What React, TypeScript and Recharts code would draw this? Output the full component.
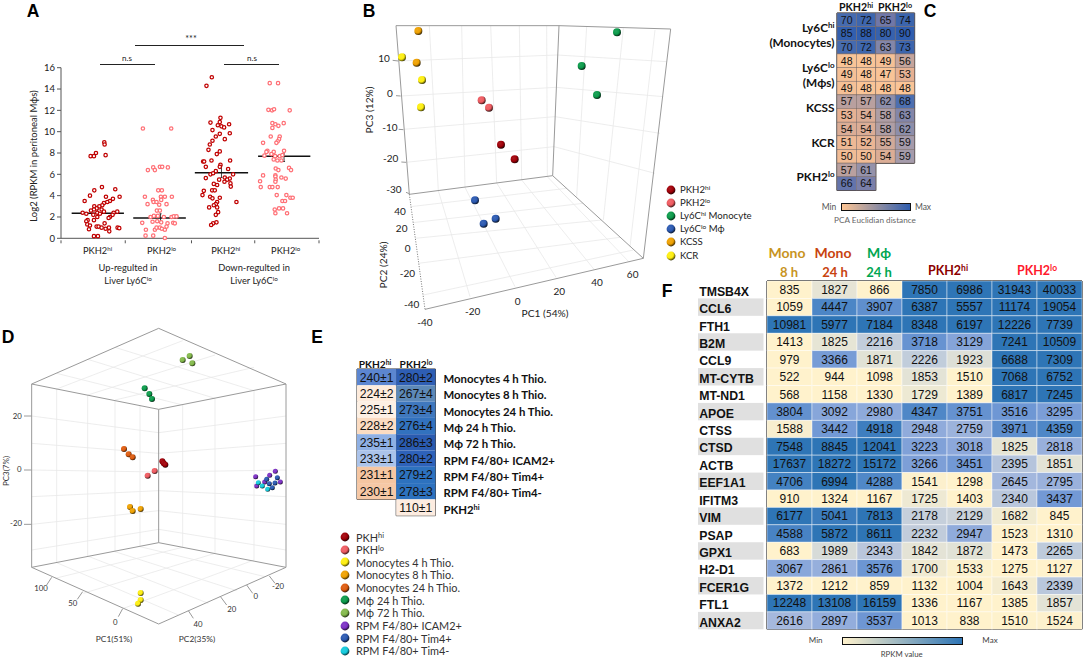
import React from "react";
import { ScatterChart, Scatter, XAxis, YAxis, ReferenceLine } from "recharts";

const SANS = "Lato, 'Open Sans', sans-serif";
const ARIAL = "'Liberation Sans', Arial, sans-serif";

// Panel A: [horizontal jitter position, log2 RPKM]
const upHi = [[313,9.0],[314,8.8],[288,8.0],[272,7.7],[282,7.7],[317,7.8],[306,4.8],[283,4.5],[346,4.6],[270,4.0],[318,3.9],[359,3.9],[254,3.5],[339,3.7],[330,3.5],[322,3.4],[312,3.3],[307,3.1],[298,3.0],[283,3.0],[290,2.8],[282,2.7],[305,2.7],[273,2.6],[312,2.5],[292,2.4],[248,2.4],[259,2.3],[280,2.2],[300,2.3],[341,2.4],[352,2.5],[338,2.2],[330,2.0],[326,1.9],[292,2.0],[282,1.7],[263,1.7],[259,1.6],[262,1.3],[270,1.2],[314,1.4],[267,0.85],[290,1.1],[296,1.1],[305,1.0],[317,0.9],[327,1.0],[328,0.65],[353,1.0],[358,0.95],[282,0.2],[294,0.2]];
const upLo = [[429,10.3],[514,10.3],[460,6.65],[444,6.4],[465,6.4],[480,6.7],[487,6.7],[504,6.65],[475,4.5],[486,4.5],[435,3.9],[483,3.9],[495,3.9],[516,3.9],[459,3.6],[461,3.4],[470,3.4],[484,3.6],[443,3.2],[478,3.15],[500,3.2],[471,2.6],[480,2.6],[452,2.0],[462,2.1],[474,2.1],[492,2.0],[515,2.0],[522,2.05],[530,2.05],[427,1.45],[458,1.55],[472,1.6],[484,1.5],[503,1.4],[520,1.45],[525,1.4],[438,0.8],[465,0.8],[470,1.0],[480,1.0],[486,0.9],[495,0.8],[500,1.1],[437,0.25],[460,0.25],[495,0.03]];
const downHi = [[636,15.1],[620,14.3],[662,11.3],[632,10.85],[688,10.7],[660,10.9],[654,10.6],[665,10.5],[673,10.4],[638,10.15],[690,9.85],[660,9.8],[648,9.55],[675,9.3],[638,9.15],[630,8.8],[626,8.3],[660,8.15],[651,7.9],[610,7.2],[613,7.2],[635,7.3],[691,7.3],[662,6.9],[660,6.7],[618,6.7],[685,6.5],[648,6.3],[632,6.0],[700,6.0],[618,5.65],[640,6.1],[675,5.7],[690,5.6],[682,5.5],[674,5.3],[658,5.5],[692,5.15],[642,5.1],[652,5.0],[693,4.85],[612,4.45],[637,4.5],[645,4.5],[608,4.05],[631,3.9],[638,3.75],[660,3.8],[710,3.4],[652,3.4],[648,3.2],[642,3.1],[628,2.9],[652,2.9],[655,2.45],[648,2.2],[650,1.5],[640,1.4],[634,1.25]];
const downLo = [[810,14.55],[835,14.55],[806,12.05],[817,12.0],[823,12.1],[870,12.0],[818,10.8],[827,10.7],[852,10.8],[836,10.55],[818,10.35],[813,9.55],[840,9.55],[838,9.3],[834,9.1],[830,8.95],[790,8.95],[803,8.2],[800,8.1],[822,8.1],[853,8.2],[794,7.75],[815,7.9],[826,7.7],[840,7.7],[848,7.8],[822,7.4],[833,7.3],[845,7.3],[828,6.55],[836,6.4],[868,6.6],[874,6.4],[827,5.9],[827,5.8],[790,5.9],[845,5.7],[858,5.6],[828,5.5],[827,5.3],[781,5.35],[783,4.8],[810,4.8],[818,4.8],[834,4.8],[831,4.05],[860,4.05],[872,3.8],[879,3.8],[848,3.5],[856,3.5],[825,2.7],[838,2.8],[850,2.8],[827,2.35],[862,2.35]];
const aGroups = [upHi, upLo, downHi, downLo];
const aGroupColors = ["#c00000", "#ff7076", "#c00000", "#ff7076"];
const aMeans = [[215,372,2.35],[400,558,1.9],[585,745,6.15],[775,932,7.7]];
const aErrors = [[293,2.0,2.7],[482,1.5,2.3],[665,5.7,6.8],[853,7.2,8.2]];
const aBoundaries = [183,376,575,765,958];
const aCenters = [293,485,678,858];
const aCenterLabels = ["hi","lo","hi","lo"];
const aYTicks = [0,2,4,6,8,10,12,14,16];

// Panel B: projected view positions of the 3D PCA
const bGroups = [
  { id: "hi", name: "PKH2", sup: "hi", tail: "", pts: [[393,434],[434,478]] },
  { id: "lo", name: "PKH2", sup: "lo", tail: "", pts: [[335,301],[357,323]] },
  { id: "green", name: "Ly6C", sup: "hi", tail: " Monocyte", pts: [[741,97],[635,198],[681,285]] },
  { id: "blue", name: "Ly6C", sup: "lo", tail: " M\u03d5", pts: [[315,601],[377,656],[341,671]] },
  { id: "orange", name: "KCSS", sup: "", tail: "", pts: [[145,93],[140,188]] },
  { id: "yellow", name: "KCR", sup: "", tail: "", pts: [[96,172],[156,240],[153,322]] },
];
const bFrame = [[78,77,567,77],[567,77,902,87],[78,77,118,583],[567,77,548,527],[902,87,820,775],[118,583,548,527],[548,527,820,775],[165,928,820,775],[68,181,85,183],[78,287,92,288],[86,388,100,389],[94,486,108,487],[108,577,118,581]];
const bDotted = [[118,583,165,928]];
const bGrid = [[178,77,205,572],[275,77,285,562],[362,77,380,549],[448,77,455,540],[530,77,532,530],[85,183,562,165],[92,288,558,262],[100,388,555,350],[108,487,552,440],[650,80,620,590],[760,85,700,660],[855,90,780,740],[562,165,890,185],[558,262,880,290],[555,350,870,400],[552,440,855,520],[205,572,300,890],[285,562,435,860],[380,549,558,832],[455,540,672,808],[532,530,778,787],[122,620,590,565],[128,668,640,610],[135,715,695,660],[145,790,750,712],[160,885,790,750]];
const bLabels = [["10",42,173],["0",60,278],["-10",60,380],["-20",62,475],["-30",72,567],["40",90,632],["20",95,685],["0",113,745],["-20",112,820],["-40",125,912],["-40",165,967],["-20",308,933],["0",443,902],["20",568,873],["40",681,847],["60",788,823]];

// Panel D: projected view positions of the 3D PCA
const dGroups = [
  { id: "hi", name: "PKH", sup: "hi", r: 9, pts: [[487,424],[491,430],[496,434]] },
  { id: "lo", name: "PKH", sup: "lo", r: 9, pts: [[464,453],[443,467]] },
  { id: "yellow", name: "Monocytes 4 h Thio.", sup: "", r: 9, pts: [[422,819],[422,840],[414,851]] },
  { id: "orange", name: "Monocytes 8 h Thio.", sup: "", r: 9, pts: [[390,561],[398,573],[422,567]] },
  { id: "rust", name: "Monocytes 24 h Thio.", sup: "", r: 9, pts: [[372,387],[386,403],[398,412]] },
  { id: "green", name: "M\u03d5 24 h Thio.", sup: "", r: 9, pts: [[434,205],[448,222],[456,237]] },
  { id: "olive", name: "M\u03d5 72 h Thio.", sup: "", r: 9, pts: [[569,108],[548,120],[577,130]] },
  { id: "purple", name: "RPM F4/80+ ICAM2+", sup: "", r: 7.5, pts: [[767,470],[826,454],[809,466],[794,486],[841,486],[770,498]] },
  { id: "blue", name: "RPM F4/80+ Tim4+", sup: "", r: 7.5, pts: [[800,478],[832,473],[808,491],[825,489],[817,503]] },
  { id: "cyan", name: "RPM F4/80+ Tim4-", sup: "", r: 7.5, pts: [[775,488],[787,498],[803,508]] },
];
const dFrame = [[95,192,476,25],[476,25,858,192],[858,192,476,268],[476,268,95,192],[95,192,95,742],[858,192,858,742],[476,268,476,668],[95,742,476,668],[476,668,858,742],[95,742,476,912],[476,912,858,742],[72,288,95,288],[72,450,95,450],[72,613,95,613],[155,772,140,795],[248,815,232,838],[368,866,355,890],[565,872,580,895],[660,828,680,855],[740,795,758,820],[808,768,825,790]];
const dGrid = [[170,207,170,728],[263,225,263,708],[345,240,345,695],[420,255,420,680],[548,255,548,682],[645,235,645,700],[762,212,762,720],[95,288,476,338],[95,370,476,400],[95,450,476,456],[95,530,476,512],[95,613,476,572],[95,690,476,628],[476,338,858,288],[476,400,858,370],[476,456,858,450],[476,512,858,530],[476,572,858,613],[476,628,858,690],[170,207,548,62],[263,225,645,105],[345,240,762,142],[548,255,170,160],[645,235,263,118],[762,212,345,82],[170,728,535,885],[263,708,625,850],[345,695,710,812],[420,680,795,770],[548,682,165,775],[645,700,250,820],[762,720,368,866]];
const dLabels = [["20",52,290],["0",58,451],["-20",48,613],["100",123,806],["50",218,851],["0",346,908],["40",594,916],["20",695,870],["0",767,830],["-20",834,801]];

// Panel C: PCA euclidian distance
const cValues = [
  [70,72,65,74],[85,88,80,90],[70,72,63,73],
  [48,48,49,56],[49,48,47,53],[49,48,48,48],
  [57,57,62,68],[53,54,58,63],[54,54,58,62],
  [51,52,55,59],[50,50,54,59],
  [57,61],[66,64],
];
const cThickRows = [3,6,9];
const cRowLabels = [["Ly6C","hi","",28],["(Monocytes)","","",43],["Ly6C","lo","",68],["(M\u03d5s)","","",83],["KCSS","","",108],["KCR","","",143],["PKH2","lo","",177]];

// Panel E: distance +/- sd
const eRowNames = ["Monocytes 4 h Thio.","Monocytes 8 h Thio.","Monocytes 24 h Thio.","M\u03d5 24 h Thio.","M\u03d5 72 h Thio.","RPM F4/80+ ICAM2+","RPM F4/80+ Tim4+","RPM F4/80+ Tim4-","PKH2hi"];
const eHiValues = ["240\u00b11","224\u00b12","225\u00b11","228\u00b12","235\u00b11","233\u00b11","231\u00b11","230\u00b11"];
const eLoValues = ["280\u00b12","267\u00b14","273\u00b14","276\u00b14","286\u00b13","280\u00b12","279\u00b12","278\u00b13","110\u00b11"];
const eHiColors = ["#5c86d0","#fdebdc","#fdf0e4","#fbdcc2","#8fb0e4","#abc3ea","#f5c6a2","#f6c8a6"];
const eLoColors = ["#2e5eb4","#5d89b8","#3f78be","#3272be","#2a5bb0","#2e62ba","#2d72bf","#2d72bf","#fdece0"];

// Panel F: RPKM
const fGenes = ["TMSB4X","CCL6","FTH1","B2M","CCL9","MT-CYTB","MT-ND1","APOE","CTSS","CTSD","ACTB","EEF1A1","IFITM3","VIM","PSAP","GPX1","H2-D1","FCER1G","FTL1","ANXA2"];
const fValues = [
  [835,1827,866,7850,6986,31943,40033],
  [1059,4447,3907,6387,5557,11174,19054],
  [10981,5977,7184,8348,6197,12226,7739],
  [1413,1825,2216,3718,3129,7241,10509],
  [979,3366,1871,2226,1923,6688,7309],
  [522,944,1098,1853,1510,7068,6752],
  [568,1158,1330,1729,1389,6817,7245],
  [3804,3092,2980,4347,3751,3516,3295],
  [1588,3442,4918,2948,2759,3971,4359],
  [7548,8845,12041,3223,3018,1825,2818],
  [17637,18272,15172,3266,3451,2395,1851],
  [4706,6994,4288,1541,1298,2645,2795],
  [910,1324,1167,1725,1403,2340,3437],
  [6177,5041,7813,2178,2129,1682,845],
  [4588,5872,8611,2232,2947,1523,1310],
  [683,1989,2343,1842,1872,1473,2265],
  [3067,2861,3576,1700,1533,1275,1127],
  [1372,1212,859,1132,1004,1643,2339],
  [12248,13108,16159,1336,1167,1385,1857],
  [2616,2897,3537,1013,838,1510,1524],
];
const fHeavyCols = [0,3,5,7];

const sphereColors: Record<string, string> = {
  hi: "#a00008", lo: "#ee5a60", green: "#0a9a4a", blue: "#2a58b0", orange: "#eea000",
  yellow: "#fdee10", rust: "#dd5a0e", olive: "#82b84a", purple: "#7c30c4", cyan: "#14cadc",
};

function hexMix(a: string, b: string, t: number) {
  const pa = [1, 3, 5].map((i) => parseInt(a.slice(i, i + 2), 16));
  const pb = [1, 3, 5].map((i) => parseInt(b.slice(i, i + 2), 16));
  return "rgb(" + pa.map((v, i) => Math.round(v + (pb[i] - v) * t)).join(",") + ")";
}

function ramp(stops: [number, string][], v: number) {
  if (v <= stops[0][0]) return stops[0][1];
  for (let i = 1; i < stops.length; i++) {
    if (v <= stops[i][0]) {
      const [a, ca] = stops[i - 1];
      const [b, cb] = stops[i];
      return hexMix(ca, cb, (v - a) / (b - a));
    }
  }
  return stops[stops.length - 1][1];
}

const fStops: [number, string][] = [[1500,"#fff2cc"],[1800,"#e8e6d5"],[2200,"#c3cedb"],[2600,"#a6b9dd"],[3000,"#8da9db"],[3500,"#6f97d4"],[4300,"#5088c8"],[5500,"#2e75b6"]];
const cStops: [number, string][] = [[48,"#f9c497"],[53,"#e6b193"],[57,"#b9a09f"],[59,"#a59bab"],[62,"#8d8eaa"],[65,"#7077a8"],[68,"#4d6fb0"],[72,"#3e66ad"],[88,"#2f5dae"]];

function T({ x, y, children, size = 10, bold = false, color = "#222", font = SANS, rotate = 0, anchor = "center" }: any) {
  const shift = anchor === "center" ? "-50%" : anchor === "end" ? "-100%" : "0";
  return (
    <div style={{ position: "absolute", left: x, top: y, fontFamily: font, fontSize: size, fontWeight: bold ? 700 : 400, color, whiteSpace: "nowrap", lineHeight: 1, transform: `translate(${shift},-50%) rotate(${rotate}deg)` }}>
      {children}
    </div>
  );
}

const Sup = ({ children }: any) => <sup style={{ fontSize: "68%", lineHeight: 0, verticalAlign: "baseline", position: "relative", top: "-0.45em" }}>{children}</sup>;

function HBar({ x, y, w, h = 1.2 }: any) {
  return <div style={{ position: "absolute", left: x, top: y, width: w, height: h, background: "#222" }} />;
}

function GradientDefs() {
  return (
    <svg width={0} height={0} style={{ position: "absolute" }}>
      <defs>
        {Object.keys(sphereColors).map((k) => (
          <radialGradient key={k} id={"sph-" + k} cx="0.38" cy="0.35" r="0.7">
            <stop offset="0%" stopColor={hexMix(sphereColors[k], "#ffffff", 0.1)} />
            <stop offset="55%" stopColor={sphereColors[k]} />
            <stop offset="100%" stopColor={hexMix(sphereColors[k], "#000000", 0.85)} />
          </radialGradient>
        ))}
      </defs>
    </svg>
  );
}

function Sphere({ left, top, id }: any) {
  return (
    <svg width={10} height={10} style={{ position: "absolute", left: left - 5, top: top - 5 }}>
      <circle cx={5} cy={5} r={4.4} fill={`url(#sph-${id})`} />
    </svg>
  );
}

const toPts = (pts: number[][]) => pts.map(([x, y]) => ({ x, y }));

function Segments({ list, stroke, width = 1, dash }: any) {
  return list.map((s: number[], i: number) => (
    <ReferenceLine key={i} segment={[{ x: s[0], y: s[1] }, { x: s[2], y: s[3] }]} stroke={stroke} strokeWidth={width} strokeDasharray={dash} ifOverflow="visible" />
  ));
}

function ProjectedChart({ left, top, width, height, groups, frame, grid, dotted, radius }: any) {
  return (
    <div style={{ position: "absolute", left, top }}>
      <ScatterChart width={width} height={height} margin={{ top: 0, right: 0, bottom: 0, left: 0 }}>
        <XAxis type="number" dataKey="x" domain={[0, width * 3]} hide />
        <YAxis type="number" dataKey="y" domain={[0, height * 3]} reversed hide />
        {Segments({ list: grid, stroke: "#e8e8e8", width: 0.8 })}
        {Segments({ list: frame, stroke: "#9a9a9a", width: 1 })}
        {dotted ? Segments({ list: dotted, stroke: "#777", width: 1, dash: "1 1.5" }) : null}
        {groups.map((g: any) => (
          <Scatter key={g.id + g.name} data={toPts(g.pts)} isAnimationActive={false}
            shape={(p: any) => <circle cx={p.cx} cy={p.cy} r={(g.r || radius) / 3} fill={`url(#sph-${g.id})`} />} />
        ))}
      </ScatterChart>
    </div>
  );
}

function ATick({ x, y, payload }: any) {
  const i = aCenters.indexOf(payload.value);
  if (i < 0) return <line x1={x} x2={x} y1={y} y2={y + 3} stroke="#555" />;
  return (
    <text x={x} y={y + 14} textAnchor="middle" fontFamily={SANS} fontSize={9.3} fill="#222">
      PKH2<tspan fontSize={6.2} dy={-3.2}>{aCenterLabels[i]}</tspan>
    </text>
  );
}

function PanelA() {
  return (
    <div style={{ position: "absolute", left: 0, top: 50 }}>
      <ScatterChart width={340} height={219} margin={{ top: 17.7, right: 21, bottom: 0.7, left: 0 }}>
        <XAxis type="number" dataKey="x" domain={[183, 958]} ticks={[...aBoundaries, ...aCenters].sort((a, b) => a - b)} interval={0} height={30} tickLine={false} tickSize={0} tick={ATick} stroke="#555" />
        <YAxis type="number" dataKey="y" domain={[0, 16]} ticks={aYTicks} interval={0} width={61} tickSize={4} tick={{ fontFamily: SANS, fontSize: 9.5, fill: "#222" }} stroke="#555" />
        {aGroups.map((g, i) => (
          <Scatter key={i} data={toPts(g)} isAnimationActive={false}
            shape={(p: any) => <circle cx={p.cx} cy={p.cy} r={1.7} fill="#fff" stroke={aGroupColors[i]} strokeWidth={1.25} />} />
        ))}
        {aMeans.map((m, i) => (
          <ReferenceLine key={"m" + i} segment={[{ x: m[0], y: m[2] }, { x: m[1], y: m[2] }]} stroke="#111" strokeWidth={1.4} />
        ))}
        {aErrors.map((e, i) => (
          <ReferenceLine key={"e" + i} segment={[{ x: e[0], y: e[1] }, { x: e[0], y: e[2] }]} stroke="#111" strokeWidth={0.8} />
        ))}
        {aErrors.flatMap((e, i) => [1, 2].map((k) => (
          <ReferenceLine key={"c" + i + k} segment={[{ x: e[0] - 3, y: e[k] }, { x: e[0] + 3, y: e[k] }]} stroke="#111" strokeWidth={0.8} />
        )))}
      </ScatterChart>
    </div>
  );
}

function cellShape(w: number, h: number, fontSize: number, border: string, borderW: number) {
  return (p: any) => {
    const d = p.payload;
    return (
      <g>
        <rect x={p.cx - w / 2} y={p.cy - h / 2} width={w} height={h} fill={d.fill} stroke={border} strokeWidth={borderW} />
        <text x={p.cx} y={p.cy + fontSize * 0.36} textAnchor="middle" fontFamily={ARIAL} fontSize={fontSize} fill="#111">{d.label}</text>
      </g>
    );
  };
}

function PanelC() {
  const W = 77.6, H = 177.4, cw = W / 4, ch = H / 13;
  const cells = cValues.flatMap((row, r) => row.map((v, c) => ({ x: c + 0.5, y: r + 0.5, label: v, fill: ramp(cStops, v) })));
  const outline = [[0,0,4,0],[4,0,4,11],[4,11,2,11],[2,11,2,13],[2,13,0,13],[0,13,0,0],[2,0,2,11],[0,11,2,11]];
  const rowLines = cThickRows.map((r) => [0, r, 4, r]);
  return (
    <div style={{ position: "absolute", left: 834.7, top: 11.3 }}>
      <ScatterChart width={W + 4} height={H + 4} margin={{ top: 2, right: 2, bottom: 2, left: 2 }}>
        <XAxis type="number" dataKey="x" domain={[0, 4]} hide />
        <YAxis type="number" dataKey="y" domain={[0, 13]} reversed hide />
        <Scatter data={cells} isAnimationActive={false} shape={cellShape(cw, ch, 10.5, "#7a6a66", 0.5)} />
        {Segments({ list: outline, stroke: "#1a1a1a", width: 1.1 })}
        {Segments({ list: rowLines, stroke: "#1a1a1a", width: 1.1 })}
      </ScatterChart>
    </div>
  );
}

function ETick({ x, y, payload }: any) {
  const name = eRowNames[Math.floor(payload.value)];
  const isHi = name === "PKH2hi";
  return (
    <text x={x + 6} y={y + 6} fontFamily={SANS} fontWeight={700} fontSize={11.4} fill="#111">
      {isHi ? "PKH2" : name}
      {isHi ? <tspan fontSize={7.5} dy={-3.5}>hi</tspan> : null}
    </text>
  );
}

function PanelE() {
  const W = 78.4, H = 146.7, cw = W / 2, ch = H / 9;
  const hiCells = eHiValues.map((label, r) => ({ x: 0.5, y: r + 0.5, label, fill: eHiColors[r] }));
  const loCells = eLoValues.map((label, r) => ({ x: 1.5, y: r + 0.5, label, fill: eLoColors[r] }));
  const outline = [[0,0,2,0],[2,0,2,9],[2,9,1,9],[1,9,1,0],[0,8,1,8],[0,0,0,8]];
  return (
    <div style={{ position: "absolute", left: 354.7, top: 367.3 }}>
      <ScatterChart width={W + 4 + 170} height={H + 4} margin={{ top: 2, right: 0, bottom: 2, left: 2 }}>
        <XAxis type="number" dataKey="x" domain={[0, 2]} hide />
        <YAxis type="number" dataKey="y" orientation="right" domain={[0, 9]} reversed ticks={eRowNames.map((_, i) => i + 0.5)} interval={0} width={172} tick={ETick} tickLine={false} axisLine={false} tickSize={0} />
        <Scatter data={[...hiCells, ...loCells]} isAnimationActive={false} shape={cellShape(cw, ch, 12.2, "none", 0)} />
        {Segments({ list: outline, stroke: "#333", width: 1 })}
      </ScatterChart>
    </div>
  );
}

function FTick({ x, y, payload }: any) {
  const i = Math.floor(payload.value);
  return (
    <g>
      {i % 2 === 1 ? <rect x={x - 67} y={y - 8.7} width={65.5} height={17.4} fill="#e0e0e0" /> : null}
      <text x={x - 65.8} y={y + 6} fontFamily={ARIAL} fontWeight={700} fontSize={12.3} fill="#111">{fGenes[i]}</text>
    </g>
  );
}

function PanelF() {
  const W = 315, H = 348.3, cw = W / 7, ch = H / 20;
  const cells = fValues.flatMap((row, r) => row.map((v, c) => ({ x: c + 0.5, y: r + 0.5, label: v, fill: ramp(fStops, v) })));
  const heavy = [...fHeavyCols.map((c) => [c, 0, c, 20]), [0, 0, 7, 0], [0, 20, 7, 20]];
  const thin = [1, 2, 4, 6].map((c) => [c, 0, c, 20]);
  return (
    <div style={{ position: "absolute", left: 698.3, top: 278.7 }}>
      <ScatterChart width={W + 69 + 2} height={H + 4} margin={{ top: 2, right: 2, bottom: 2, left: 0 }}>
        <XAxis type="number" dataKey="x" domain={[0, 7]} hide />
        <YAxis type="number" dataKey="y" domain={[0, 20]} reversed ticks={fGenes.map((_, i) => i + 0.5)} interval={0} width={69} tick={FTick} tickLine={false} axisLine={false} tickSize={0} />
        <Scatter data={cells} isAnimationActive={false} shape={cellShape(cw, ch, 12, "rgba(255,255,255,0.55)", 0.8)} />
        {Segments({ list: thin, stroke: "#555", width: 0.7 })}
        {Segments({ list: heavy, stroke: "#1a1a1a", width: 1.4 })}
      </ScatterChart>
    </div>
  );
}

function LegendBar({ x, y, w, h, from, to }: any) {
  return <div style={{ position: "absolute", left: x, top: y, width: w, height: h, boxSizing: "border-box", border: "1.2px solid #111", background: `linear-gradient(to right, ${from}, ${to})` }} />;
}

export default function App() {
  return (
    <div style={{ position: "absolute", left: 0, top: 0, width: 1084, height: 660, background: "#fff", overflow: "hidden" }}>
      <GradientDefs />
      <T x={33} y={12} size={17.5} bold font={ARIAL} color="#000">A</T>
      <T x={369} y={12} size={17.5} bold font={ARIAL} color="#000">B</T>
      <T x={930} y={12} size={17.5} bold font={ARIAL} color="#000">C</T>
      <T x={8} y={338} size={17.5} bold font={ARIAL} color="#000">D</T>
      <T x={317} y={338} size={17.5} bold font={ARIAL} color="#000">E</T>
      <T x={667} y={292} size={17.5} bold font={ARIAL} color="#000">F</T>

      <PanelA />
      <T x={191} y={38} size={9}>***</T>
      <HBar x={135} y={44.6} w={109} />
      <T x={127} y={58} size={8}>n.s</T>
      <HBar x={99.5} y={64} w={55} />
      <T x={252} y={58} size={8}>n.s</T>
      <HBar x={223.5} y={64} w={55} />
      <T x={34} y={156} size={9.5} rotate={-90}>Log2 (RPKM in peritoneal M&#981;s)</T>
      <T x={128} y={268} size={9.3}>Up-regulted in</T>
      <T x={128} y={280.5} size={9.3}>Liver Ly6C<Sup>lo</Sup></T>
      <T x={254} y={268} size={9.3}>Down-regulted in</T>
      <T x={254} y={280.5} size={9.3}>Liver Ly6C<Sup>lo</Sup></T>

      <ProjectedChart left={370} top={0} width={340} height={330} groups={bGroups} frame={bFrame} grid={bGrid} dotted={bDotted} radius={12} />
      {bLabels.map(([t, x, y]: any, i) => <T key={i} x={370 + x / 3} y={y / 3} size={10}>{t}</T>)}
      <T x={369} y={110} size={10.2} rotate={-90}>PC3 (12%)</T>
      <T x={383} y={265} size={10.2} rotate={-90}>PC2 (24%)</T>
      <T x={545} y={313} size={10.2}>PC1 (54%)</T>
      {bGroups.map((g, i) => (
        <React.Fragment key={i}>
          <Sphere left={671} top={190 + i * 13.1} id={g.id} />
          <T x={680} y={190 + i * 13.1} size={9.6} anchor="start">{g.name}{g.sup ? <Sup>{g.sup}</Sup> : null}{g.tail}</T>
        </React.Fragment>
      ))}

      <PanelC />
      <T x={856} y={7} size={10.6} bold color="#111">PKH2<Sup>hi</Sup></T>
      <T x={895} y={7} size={10.6} bold color="#111">PKH2<Sup>lo</Sup></T>
      {cRowLabels.map(([a, s, , y]: any, i) => (
        <T key={i} x={834.5} y={y} size={11.8} bold color="#111" anchor="end">{a}{s ? <Sup>{s}</Sup> : null}</T>
      ))}
      <T x={829} y={207} size={8.5} color="#555">Min</T>
      <LegendBar x={840.5} y={203} w={70.5} h={7.6} from="#fdc594" to="#2f5dae" />
      <T x={923} y={207} size={8.5} color="#555">Max</T>
      <T x={875} y={220} size={8.2} color="#666">PCA Euclidian distance</T>

      <ProjectedChart left={0} top={320} width={340} height={340} groups={dGroups} frame={dFrame} grid={dGrid} radius={9} />
      {dLabels.map(([t, x, y]: any, i) => <T key={i} x={x / 3} y={320 + y / 3} size={7.8} color="#333">{t}</T>)}
      <T x={6} y={471} size={8} color="#333" rotate={-90}>PC3(7%)</T>
      <T x={114} y={639} size={8.4} color="#333">PC1(51%)</T>
      <T x={197} y={639} size={8.4} color="#333">PC2(35%)</T>
      {dGroups.map((g, i) => (
        <React.Fragment key={i}>
          <Sphere left={345} top={537 + i * 12.65} id={g.id} />
          <T x={356} y={537.5 + i * 12.65} size={10.9} anchor="start" color="#333">{g.name}{g.sup ? <Sup>{g.sup}</Sup> : null}</T>
        </React.Fragment>
      ))}

      <PanelE />
      <T x={375} y={364} size={10.2} bold color="#111">PKH2<Sup>hi</Sup></T>
      <T x={416} y={364} size={10.2} bold color="#111">PKH2<Sup>lo</Sup></T>

      <PanelF />
      <T x={787} y={253} size={14} bold color="#c8941e">Mono</T>
      <T x={789} y={272} size={13} bold color="#c8941e">8 h</T>
      <T x={833} y={253} size={14} bold color="#c8430f">Mono</T>
      <T x={835} y={272} size={13} bold color="#c8430f">24 h</T>
      <T x={879} y={253} size={14} bold color="#00a651">M&#981;</T>
      <T x={879} y={272} size={13} bold color="#00a651">24 h</T>
      <T x={948} y={271} size={12.5} bold color="#8b0000">PKH2<Sup>hi</Sup></T>
      <T x={1037} y={271} size={12.5} bold color="#ff1a2e">PKH2<Sup>lo</Sup></T>
      <T x={815.7} y={640} size={8} color="#444">Min</T>
      <LegendBar x={841.5} y={636.5} w={121.5} h={8} from="#fff2cc" to="#2e75b6" />
      <T x={990} y={640} size={8} color="#444">Max</T>
      <T x={901.7} y={655} size={7.8} color="#444">RPKM value</T>
    </div>
  );
}
